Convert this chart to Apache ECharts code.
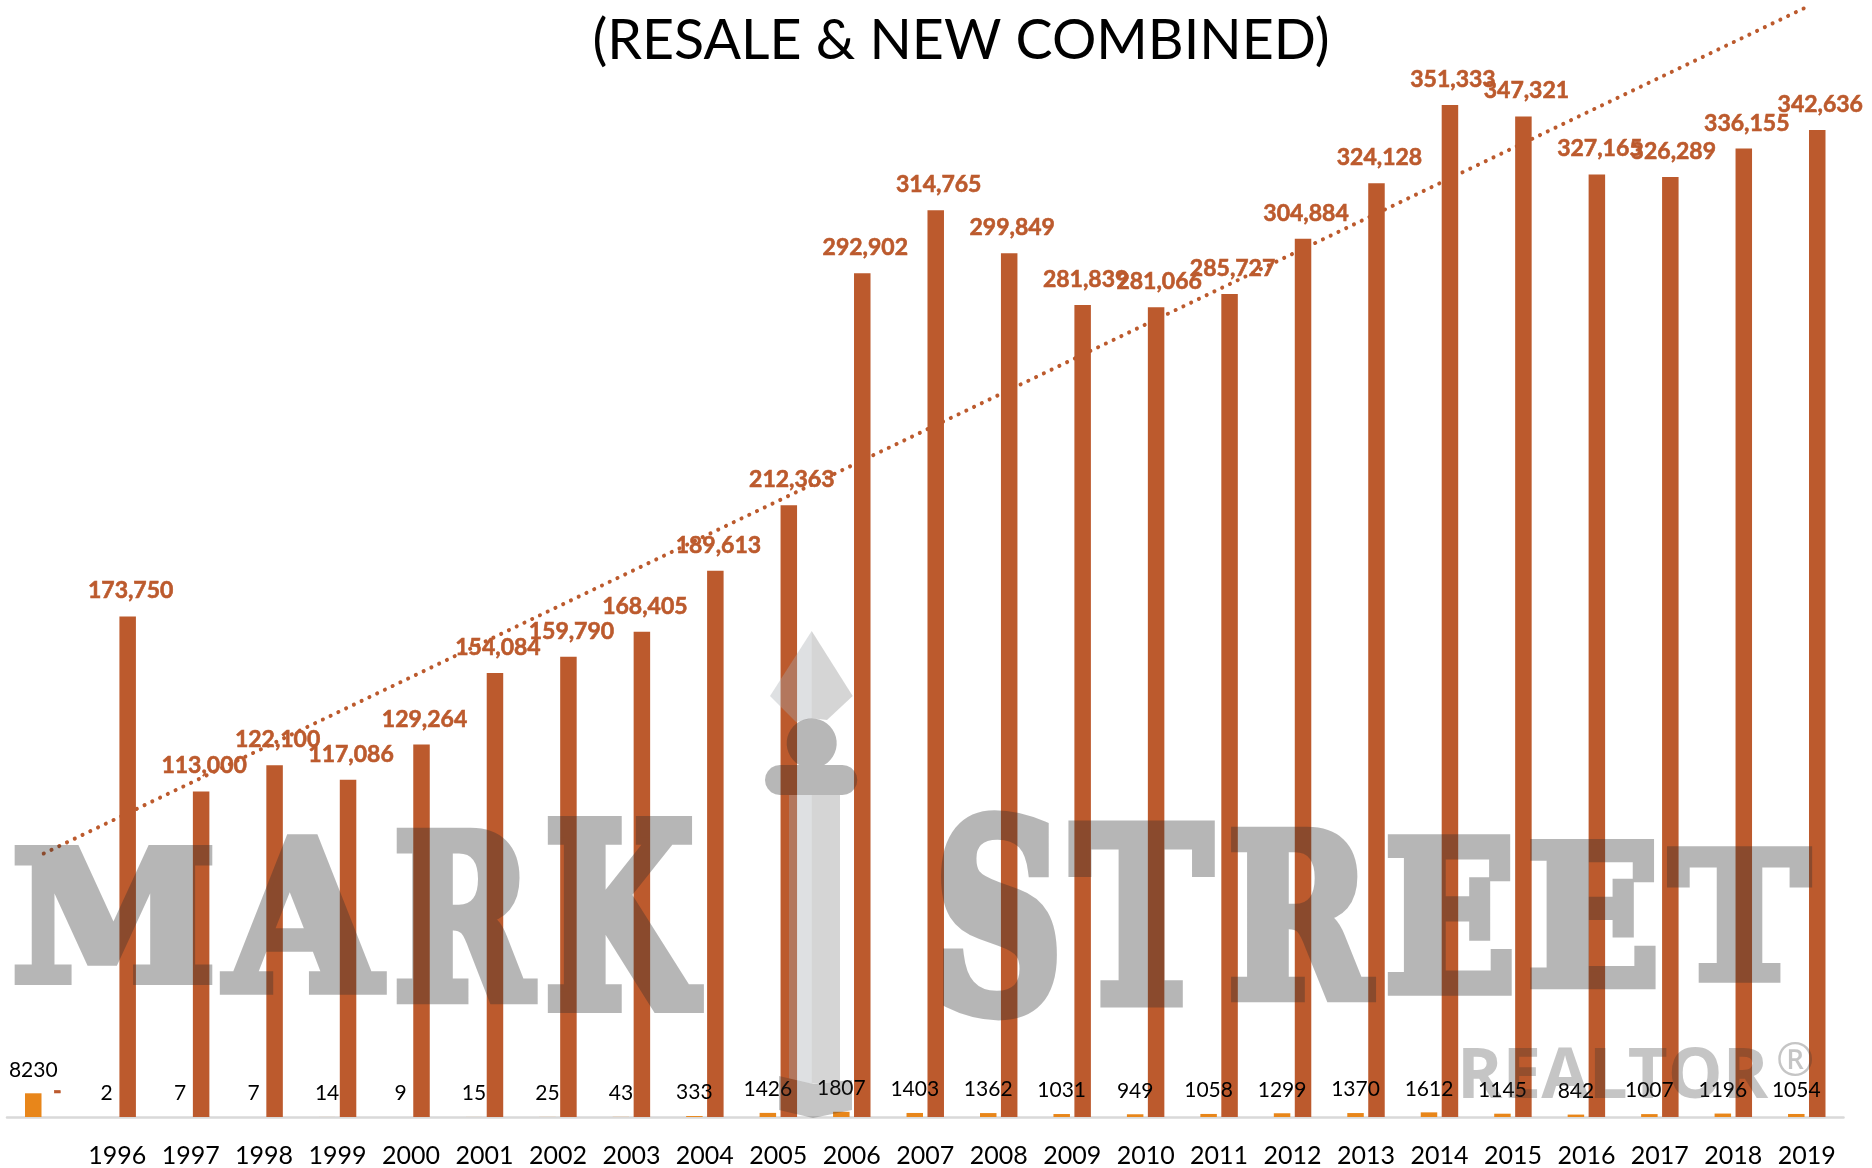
<!DOCTYPE html>
<html>
<head>
<meta charset="utf-8">
<style>html,body{margin:0;padding:0;background:#fff}#c{width:1872px;height:1168px}</style>
<script src="https://cdn.jsdelivr.net/npm/echarts@6/dist/echarts.min.js"></script>
</head>
<body>
<div id="c"></div>
<script>
const titleText = '(RESALE & NEW COMBINED)';
const years = ['', '1996','1997','1998','1999','2000','2001','2002','2003','2004','2005','2006','2007','2008','2009','2010','2011','2012','2013','2014','2015','2016','2017','2018','2019'];
const newSales = [8230,2,7,7,14,9,15,25,43,333,1426,1807,1403,1362,1031,949,1058,1299,1370,1612,1145,842,1007,1196,1054];
const combinedSales = [0,173750,113000,122100,117086,129264,154084,159790,168405,189613,212363,292902,314765,299849,281839,281066,285727,304884,324128,351333,347321,327165,326289,336155,342636];
const trendStart = 91460;
const trendEnd = 385320;
const yMax = 387743;

const RED = '#BC5A2D', ORANGE = '#E8861A', FONT = 'Lato';
const WM = 'rgba(45,45,45,0.343)';

const trend = years.map((_, i) => i === 0 ? trendStart : (i === years.length - 1 ? trendEnd : null));

// Watermark letters: [character, left, top, right, bottom] in page pixels
const markLetters = [
  ['M', 14.3, 844.5, 212.3, 984.5], ['A', 219.3, 834, 387.3, 995], ['R', 395.7, 827, 538.3, 1004], ['K', 546.7, 816, 704, 1012.7],
  ['S', 940, 810.7, 1058.3, 1019.3], ['T', 1068.3, 820.7, 1216, 1008], ['R', 1230, 826.7, 1376.7, 1001.7],
  ['E', 1386.7, 833.3, 1513.3, 995.7], ['E', 1529.3, 839.7, 1657.3, 989.7], ['T', 1666.7, 846, 1813.3, 983.3]
];
const ctx = document.createElement('canvas').getContext('2d');
ctx.font = 'bold 100px "DejaVu Serif"';
ctx.textBaseline = 'middle';
ctx.textAlign = 'left';
const LW = 5.5; // stroke (glyph units) that thickens the letters to the logo's slab weight
const letterEls = markLetters.map(([ch, x0, y0, x1, y1]) => {
  const m = ctx.measureText(ch);
  const l = -m.actualBoundingBoxLeft - LW / 2, r = m.actualBoundingBoxRight + LW / 2;
  const t = -m.actualBoundingBoxAscent - LW / 2, b = m.actualBoundingBoxDescent + LW / 2;
  const sx = (x1 - x0) / (r - l), sy = (y1 - y0) / (b - t);
  return { type: 'text', zlevel: 1, silent: true, x: x0 - sx * l, y: y0 - sy * t, scaleX: sx, scaleY: sy,
    style: { text: ch, x: 0, y: 0, font: 'bold 100px "DejaVu Serif"', fill: 'rgb(45,45,45)', stroke: 'rgb(45,45,45)', lineWidth: LW, lineJoin: 'miter', align: 'left', textAlign: 'left', verticalAlign: 'middle', textVerticalAlign: 'middle' } };
});

function arc(cx, cy, r, a0, a1, n) {
  const p = [];
  for (let i = 0; i <= n; i++) { const a = (a0 + (a1 - a0) * i / n) * Math.PI / 180; p.push([cx + r * Math.cos(a), cy + r * Math.sin(a)]); }
  return p;
}
function poly(points, fill) { return { type: 'polygon', z: 10, silent: true, shape: { points }, style: { fill } }; }
const headPts = [].concat(
  arc(811.7, 743.3, 25, 120, 420, 32),
  [[842.3, 765]], arc(842.3, 780, 15, -90, 90, 10),
  [[780, 795]], arc(780, 780, 15, 90, 270, 10)
);
const iconEls = [
  poly([[811.7, 631], [811.7, 718.3], [796, 722], [770, 696]], 'rgba(166,170,175,0.37)'),
  poly([[811.7, 631], [852.7, 696], [827, 720], [811.7, 718.3]], 'rgba(45,45,45,0.2)'),
  poly(headPts, WM),
  poly([[789, 795], [811.7, 795], [811.7, 1083.7], [789, 1078.4]], 'rgba(166,170,175,0.37)'),
  poly([[811.7, 795], [840, 795], [840, 1081.2], [811.7, 1083.7]], 'rgba(45,45,45,0.2)'),
  poly([[779, 1076], [813, 1084], [852, 1080], [852, 1110], [813, 1118], [779, 1110]], 'rgba(45,45,45,0.28)')
];
const realtorEls = [
  { type: 'text', z: 10, silent: true, x: 1457, y: 1078, style: { text: 'REALTOR', font: 'bold 69px "Open Sans"', fill: 'rgba(45,45,45,0.28)', align: 'left', textAlign: 'left', verticalAlign: 'middle', textVerticalAlign: 'middle' } },
  { type: 'text', z: 10, silent: true, x: 1776, y: 1063, style: { text: '®', font: '46px "Open Sans"', fill: 'rgba(45,45,45,0.28)', align: 'left', textAlign: 'left', verticalAlign: 'middle', textVerticalAlign: 'middle' } }
];

const chart = echarts.init(document.getElementById('c'), null, { renderer: 'canvas' });
chart.setOption({
  animation: false,
  backgroundColor: '#fff',
  title: { text: titleText, left: 956, top: 8, textAlign: 'center', textStyle: { fontFamily: FONT, fontSize: 55.5, fontWeight: 'normal', color: '#000' } },
  grid: { left: 7, right: 28.5, top: 0, bottom: 50, containLabel: false },
  xAxis: { type: 'category', data: years, boundaryGap: true,
    axisLine: { lineStyle: { color: '#D9D9D9', width: 2.5 } }, axisTick: { show: false },
    axisLabel: { interval: 0, margin: 26, fontFamily: FONT, fontSize: 25, color: '#000' } },
  yAxis: { type: 'value', min: 0, max: yMax, show: false, splitLine: { show: false } },
  series: [
    { name: 'Trend', type: 'line', data: trend, connectNulls: true, symbol: 'none', z: 1, silent: true,
      lineStyle: { color: RED, width: 4, cap: 'round', type: [0.1, 8.5] } },
    { name: 'New', type: 'bar', data: newSales, barWidth: 16.5, barGap: '27%', z: 2,
      itemStyle: { color: ORANGE },
      label: { show: true, position: 'top', distance: 13, fontFamily: FONT, fontSize: 21, color: '#000', formatter: p => String(p.value) } },
    { name: 'Combined', type: 'bar', data: combinedSales, barWidth: 16.5, z: 2,
      itemStyle: { color: RED },
      label: { show: true, position: 'top', distance: 14, offset: [3, 0], fontFamily: FONT, fontSize: 23, fontWeight: 'bold', color: RED, textBorderColor: RED, textBorderWidth: 0.6,
        formatter: p => p.value === 0 ? '-' : p.value.toLocaleString('en-US') } }
  ],
  graphic: { elements: [].concat(letterEls, iconEls, realtorEls) }
});
// The logo letters sit on their own layer so that fill and stroke share one transparency.
function fadeLogoLayer() { chart.getZr().painter.getLayer(1).dom.style.opacity = 0.343; }
fadeLogoLayer();
requestAnimationFrame(fadeLogoLayer);
</script>
</body>
</html>
